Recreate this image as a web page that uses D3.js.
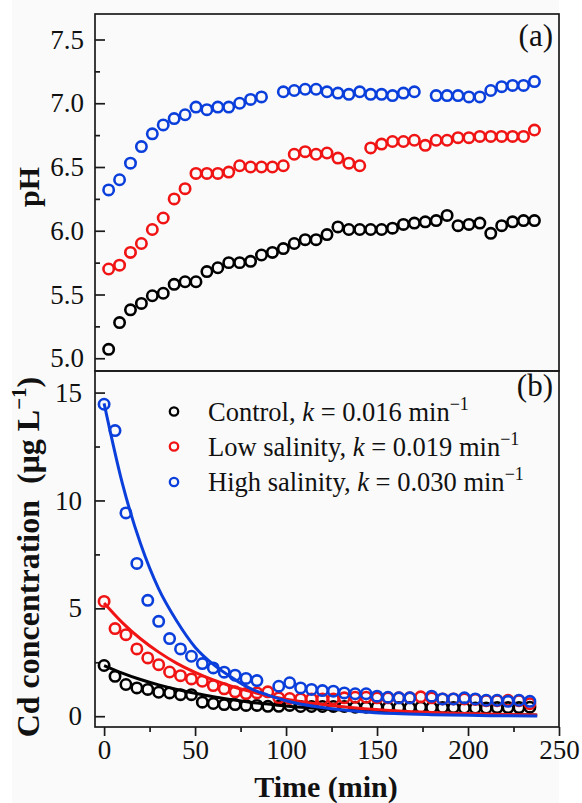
<!DOCTYPE html>
<html><head><meta charset="utf-8">
<script src="https://cdn.jsdelivr.net/npm/d3@7"></script>
<style>
html,body{margin:0;padding:0;background:#fff;}
svg{display:block;font-family:"Liberation Serif","Times New Roman",serif;}
</style>
</head><body>
<svg id="chart" width="582" height="803"></svg>
<script>
// ---------- data ----------
const seriesNames = ["Control", "Low salinity", "High salinity"];
const kValues = ["0.016", "0.019", "0.030"];
const colors = ["#000000", "#f01414", "#0b3fdc"];

const topTime = [2.5, 8.5, 14.5, 20.5, 26.5, 32.5, 38.5, 44.5, 50.5, 56.5,
  62.5, 68.5, 74.5, 80.5, 86.5, 92.5, 98.5, 104.5, 110.5, 116.5,
  122.5, 128.5, 134.5, 140.5, 146.5, 152.5, 158.5, 164.5, 170.5, 176.5,
  182.5, 188.5, 194.5, 200.5, 206.5, 212.5, 218.5, 224.5, 230.5, 236.5];
const phControl = [5.07, 5.28, 5.38, 5.43, 5.49, 5.51, 5.58, 5.60, 5.60, 5.68,
  5.71, 5.75, 5.75, 5.76, 5.81, 5.83, 5.86, 5.90, 5.93, 5.93,
  5.97, 6.03, 6.01, 6.01, 6.01, 6.01, 6.02, 6.05, 6.06, 6.07,
  6.08, 6.12, 6.04, 6.05, 6.06, 5.98, 6.04, 6.07, 6.08, 6.08];
const phLow = [5.70, 5.73, 5.83, 5.90, 6.01, 6.10, 6.25, 6.33, 6.45, 6.45,
  6.45, 6.46, 6.51, 6.50, 6.50, 6.50, 6.51, 6.60, 6.62, 6.60,
  6.61, 6.57, 6.53, 6.51, 6.65, 6.68, 6.70, 6.70, 6.71, 6.67,
  6.71, 6.71, 6.73, 6.73, 6.74, 6.74, 6.74, 6.74, 6.74, 6.79];
const phHigh = [6.32, 6.40, 6.53, 6.66, 6.76, 6.83, 6.88, 6.91, 6.97, 6.95,
  6.97, 6.97, 7.00, 7.03, 7.05, null, 7.09, 7.10, 7.11, 7.11,
  7.09, 7.08, 7.07, 7.09, 7.07, 7.07, 7.06, 7.08, 7.09, null,
  7.06, 7.06, 7.06, 7.05, 7.05, 7.10, 7.13, 7.14, 7.14, 7.17];

const cdTime = [0, 6, 12, 18, 24, 30, 36, 42, 48, 54,
  60, 66, 72, 78, 84, 90, 96, 102, 108, 114,
  120, 126, 132, 138, 144, 150, 156, 162, 168, 174,
  180, 186, 192, 198, 204, 210, 216, 222, 228, 234];
const cdControl = [2.35, 1.85, 1.47, 1.31, 1.24, 1.11, 1.08, 1.00, 1.00, 0.65,
  0.59, 0.54, 0.54, 0.50, 0.50, 0.46, 0.46, 0.50, 0.45, 0.45,
  0.45, 0.45, 0.45, 0.42, 0.42, 0.42, 0.40, 0.40, 0.40, 0.42,
  0.40, 0.40, 0.40, 0.38, 0.38, 0.38, 0.40, 0.40, 0.40, 0.42];
const cdLow = [5.32, 4.06, 3.78, 3.12, 2.70, 2.39, 2.05, 1.88, 1.73, 1.62,
  1.42, 1.27, 1.13, 1.05, 1.08, 1.13, 0.85, 0.82, 0.80, 0.80,
  0.80, 0.80, 0.85, 0.88, 0.88, 0.85, 0.85, 0.85, 0.85, 0.90,
  0.85, 0.80, 0.80, 0.80, 0.78, 0.72, 0.72, 0.74, 0.72, 0.58];
const cdHigh = [14.46, 13.24, 9.42, 7.08, 5.37, 4.40, 3.60, 3.12, 2.78, 2.44,
  2.24, 2.04, 1.90, 1.75, 1.65, null, 1.39, 1.55, 1.31, 1.24,
  1.19, 1.16, 1.08, 1.04, 1.04, 0.93, 0.88, 0.85, 0.85, null,
  0.93, 0.80, 0.80, 0.85, 0.80, 0.74, 0.74, 0.69, 0.74, 0.69];

// fitted first-order curves
const fitTime = [0, 10, 20, 30, 40, 50, 60, 70, 80, 90, 100, 120, 140, 160, 180, 200, 220, 238];
const fitControl = [2.35, 2.00, 1.70, 1.45, 1.24, 1.06, 0.90, 0.77, 0.65, 0.56, 0.47, 0.34, 0.25, 0.18, 0.13, 0.10, 0.07, 0.05];
const fitLow = [5.25, 4.34, 3.59, 2.97, 2.45, 2.03, 1.68, 1.39, 1.15, 0.95, 0.79, 0.54, 0.37, 0.25, 0.17, 0.12, 0.08, 0.06];
const fitHigh = [14.5, 10.8, 8.0, 5.9, 4.4, 3.2, 2.4, 1.8, 1.3, 0.98, 0.72, 0.40, 0.22, 0.12, 0.07, 0.04, 0.02, 0.01];

const xTicks = [0, 50, 100, 150, 200, 250];
const xMinor = [25, 75, 125, 175, 225];
const phTicks = [5.0, 5.5, 6.0, 6.5, 7.0, 7.5];
const phMinor = [5.25, 5.75, 6.25, 6.75, 7.25];
const cdTicks = [0, 5, 10, 15];
const cdMinor = [2.5, 7.5, 12.5];

// ---------- layout ----------
const FONT = '"Liberation Serif","Times New Roman",serif';
const L = 95, R = 559, T1 = 14, B1 = 371, T2 = 371, B2 = 727;
const svg = d3.select("#chart");
svg.append("rect").attr("x", 12).attr("y", 0).attr("width", R - 12).attr("height", 803).attr("fill", "#fafafa");

const x = d3.scaleLinear().domain([-5, 250]).range([L, R]);
const yTop = d3.scaleLinear().domain([4.9, 7.7]).range([B1, T1]);
const yBot = d3.scaleLinear().domain([-0.5, 16]).range([B2, T2]);

const axisColor = "#1a1a1a";
function styleAxis(g) {
  g.attr("font-family", null).attr("font-size", null);
  g.select(".domain").remove();
  g.selectAll("line").attr("stroke", axisColor).attr("stroke-width", 1.7);
  g.selectAll("text").attr("fill", "#111").style("font-family", FONT).style("font-size", "27px");
}

// top panel axes
svg.append("g").attr("transform", `translate(${L},0)`)
  .call(d3.axisLeft(yTop).tickValues(phTicks).tickFormat(d3.format(".1f")).tickSizeInner(-10).tickSizeOuter(0).tickPadding(11))
  .call(styleAxis);
svg.append("g").attr("transform", `translate(${L},0)`)
  .call(d3.axisLeft(yTop).tickValues(phMinor).tickFormat("").tickSizeInner(-5).tickSizeOuter(0))
  .call(styleAxis);

// bottom panel axes
svg.append("g").attr("transform", `translate(${L},0)`)
  .call(d3.axisLeft(yBot).tickValues(cdTicks).tickFormat(d3.format("d")).tickSizeInner(-10).tickSizeOuter(0).tickPadding(13))
  .call(styleAxis);
svg.append("g").attr("transform", `translate(${L},0)`)
  .call(d3.axisLeft(yBot).tickValues(cdMinor).tickFormat("").tickSizeInner(-5).tickSizeOuter(0))
  .call(styleAxis);
svg.append("g").attr("transform", `translate(0,${B2})`)
  .call(d3.axisBottom(x).tickValues(xTicks).tickFormat(d3.format("d")).tickSizeInner(9).tickSizeOuter(0).tickPadding(4))
  .call(styleAxis);
svg.append("g").attr("transform", `translate(0,${B2})`)
  .call(d3.axisBottom(x).tickValues(xMinor).tickFormat("").tickSizeInner(5).tickSizeOuter(0))
  .call(styleAxis);

// frames
[[T1, B1], [T2, B2]].forEach(([t, b]) => {
  svg.append("rect").attr("x", L).attr("y", t).attr("width", R - L).attr("height", b - t)
    .attr("fill", "none").attr("stroke", axisColor).attr("stroke-width", 1.7);
});

// clip paths
const defs = svg.append("defs");
defs.append("clipPath").attr("id", "clipTop").append("rect").attr("x", L).attr("y", T1).attr("width", R - L).attr("height", B1 - T1);
defs.append("clipPath").attr("id", "clipBot").append("rect").attr("x", L).attr("y", T2).attr("width", R - L).attr("height", B2 - T2);

// top panel points
const topSeries = [phControl, phLow, phHigh];
const gTop = svg.append("g").attr("clip-path", "url(#clipTop)");
topSeries.forEach((vals, si) => {
  const pts = topTime.map((t, i) => ({ t, v: vals[i] })).filter(d => d.v != null);
  gTop.append("g").selectAll("circle").data(pts).join("circle")
    .attr("cx", d => x(d.t)).attr("cy", d => yTop(d.v)).attr("r", 5.2)
    .attr("fill", "none").attr("stroke", colors[si]).attr("stroke-width", 2.6);
});

// bottom panel points + fits
const botSeries = [cdControl, cdLow, cdHigh];
const fitSeries = [fitControl, fitLow, fitHigh];
const gBot = svg.append("g").attr("clip-path", "url(#clipBot)");
const line = d3.line().x(d => x(d.t)).y(d => yBot(d.v)).curve(d3.curveMonotoneX);
botSeries.forEach((vals, si) => {
  const pts = cdTime.map((t, i) => ({ t, v: vals[i] })).filter(d => d.v != null);
  gBot.append("g").selectAll("circle").data(pts).join("circle")
    .attr("cx", d => x(d.t)).attr("cy", d => yBot(d.v)).attr("r", 5.2)
    .attr("fill", "none").attr("stroke", colors[si]).attr("stroke-width", 2.6);
});
fitSeries.forEach((vals, si) => {
  const pts = fitTime.map((t, i) => ({ t, v: vals[i] }));
  gBot.append("path").datum(pts).attr("d", line)
    .attr("fill", "none").attr("stroke", colors[si]).attr("stroke-width", 3);
});

// legend
const legY = [411.5, 446.5, 482];
seriesNames.forEach((name, i) => {
  svg.append("circle").attr("cx", 174).attr("cy", legY[i]).attr("r", 4.2)
    .attr("fill", "none").attr("stroke", colors[i]).attr("stroke-width", 2.3);
  const tx = svg.append("text").attr("x", 208).attr("y", legY[i] + 9)
    .attr("fill", "#111").style("font-size", "26.5px");
  tx.append("tspan").text(name + ", ");
  tx.append("tspan").style("font-style", "italic").text("k");
  tx.append("tspan").text(" = " + kValues[i] + " min");
  tx.append("tspan").attr("dy", -11).style("font-size", "18px").text("\u22121");
});

// panel labels
svg.append("text").attr("x", 553).attr("y", 46).attr("text-anchor", "end")
  .attr("fill", "#111").style("font-size", "31px").text("(a)");
svg.append("text").attr("x", 553).attr("y", 396).attr("text-anchor", "end")
  .attr("fill", "#111").style("font-size", "31px").text("(b)");

// axis titles
svg.append("text").attr("transform", "translate(39,187) rotate(-90)").attr("text-anchor", "middle")
  .attr("fill", "#111").style("font-size", "30px").style("font-weight", "bold").text("pH");
const cdTitle = svg.append("text").attr("transform", "translate(39,557) rotate(-90)").attr("text-anchor", "middle")
  .attr("fill", "#111").style("font-size", "32px").style("font-weight", "bold").style("white-space", "pre");
cdTitle.append("tspan").text("Cd concentration  (\u03bcg L");
cdTitle.append("tspan").attr("dy", -13).style("font-size", "21px").text("\u22121");
cdTitle.append("tspan").attr("dy", 13).text(")");
svg.append("text").attr("x", 326).attr("y", 797).attr("text-anchor", "middle")
  .attr("fill", "#111").style("font-size", "30px").style("font-weight", "bold").text("Time (min)");
</script>
</body></html>
